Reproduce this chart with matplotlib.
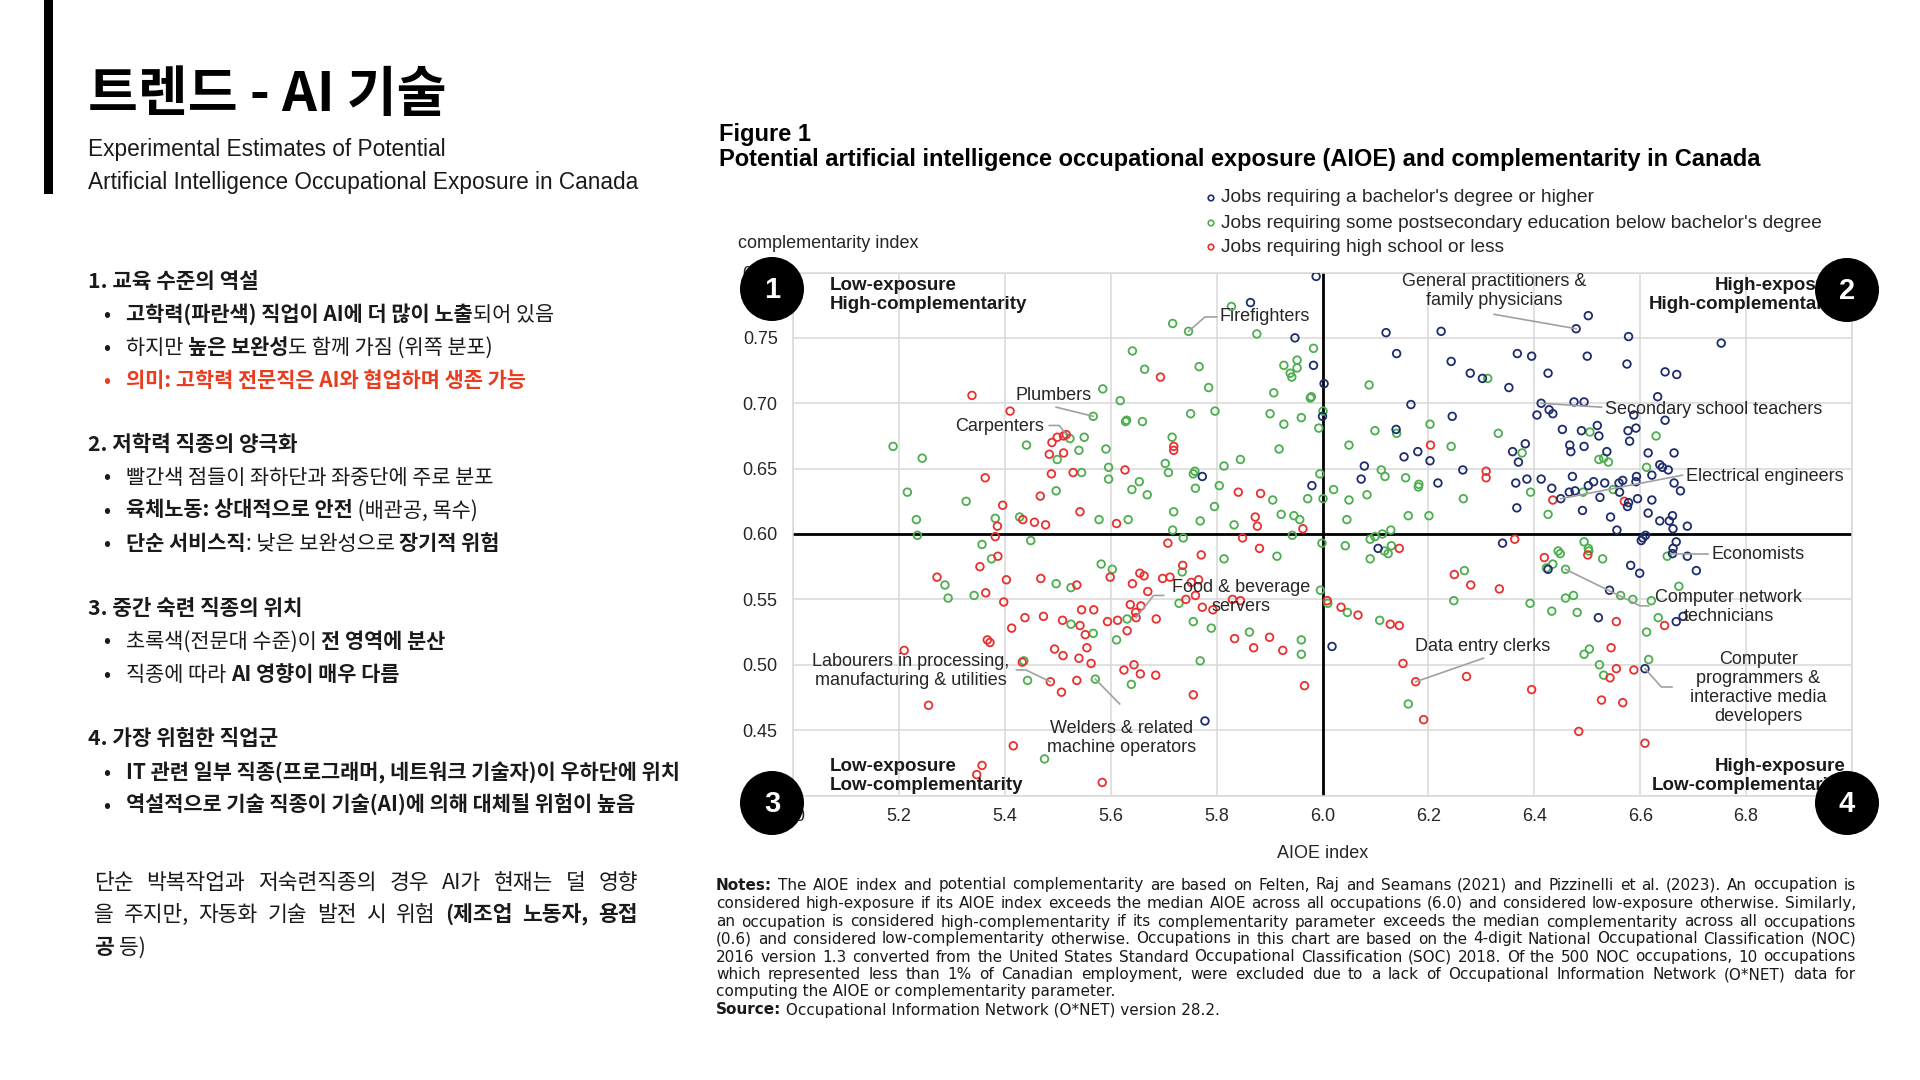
import numpy as np
import matplotlib
matplotlib.use("Agg")
import matplotlib.pyplot as plt
from matplotlib.patches import Circle, Rectangle

KR = ["Noto Sans CJK KR", "DejaVu Sans"]
EN = ["Liberation Sans", "DejaVu Sans"]
VER = ["DejaVu Sans"]
INK = "#1a1a1a"
ACCENT = "#ea3c1f"

# ---- chart data: (AIOE index, complementarity index) ----
bachelor_pts = [
    (5.988, 0.797), (5.864, 0.777), (5.948, 0.750), (5.983, 0.729), (6.003, 0.715), (6.000, 0.690),
    (5.773, 0.644), (5.980, 0.637),
    (6.120, 0.754), (6.224, 0.755), (6.140, 0.738), (6.243, 0.732), (6.279, 0.723), (6.302, 0.719),
    (6.352, 0.712), (6.368, 0.738), (6.395, 0.736), (6.426, 0.723), (6.479, 0.757), (6.502, 0.767),
    (6.500, 0.736), (6.578, 0.751), (6.575, 0.730), (6.647, 0.724), (6.669, 0.722), (6.753, 0.746),
    (6.633, 0.705), (6.167, 0.699), (6.245, 0.690), (6.413, 0.700), (6.475, 0.701), (6.494, 0.701),
    (6.405, 0.691), (6.428, 0.695), (6.435, 0.692), (6.588, 0.691), (6.647, 0.687), (6.139, 0.680),
    (6.154, 0.659), (6.180, 0.663), (6.203, 0.656), (6.079, 0.652), (6.073, 0.642), (6.218, 0.639),
    (6.265, 0.649), (6.359, 0.663), (6.370, 0.655), (6.383, 0.669), (6.453, 0.680), (6.489, 0.679),
    (6.519, 0.683), (6.522, 0.675), (6.577, 0.679), (6.592, 0.681), (6.580, 0.671), (6.467, 0.668),
    (6.469, 0.663), (6.494, 0.667), (6.537, 0.663), (6.615, 0.662), (6.664, 0.662), (6.637, 0.653),
    (6.642, 0.651), (6.653, 0.649), (6.622, 0.645), (6.593, 0.644), (6.592, 0.640), (6.560, 0.639),
    (6.567, 0.641), (6.533, 0.639), (6.512, 0.640), (6.502, 0.637), (6.477, 0.633), (6.466, 0.632),
    (6.472, 0.644), (6.413, 0.642), (6.433, 0.635), (6.386, 0.642), (6.365, 0.639), (6.450, 0.627),
    (6.524, 0.628), (6.561, 0.632), (6.595, 0.627), (6.622, 0.626), (6.664, 0.639), (6.676, 0.633),
    (6.578, 0.624), (6.576, 0.621), (6.491, 0.618), (6.544, 0.613), (6.615, 0.616), (6.637, 0.610),
    (6.655, 0.610), (6.661, 0.614), (6.662, 0.604), (6.689, 0.606), (6.556, 0.603), (6.367, 0.620),
    (6.340, 0.593), (6.602, 0.595), (6.605, 0.597), (6.610, 0.599), (6.668, 0.594), (6.105, 0.589),
    (6.662, 0.589),
    (6.018, 0.514), (5.778, 0.457),
    (6.426, 0.573), (6.542, 0.557), (6.521, 0.536), (6.582, 0.576), (6.599, 0.570), (6.689, 0.583),
    (6.706, 0.572), (6.661, 0.585), (6.668, 0.533), (6.681, 0.537), (6.609, 0.497),
]

postsec_pts = [
    (5.828, 0.774), (5.717, 0.761), (5.747, 0.755), (5.876, 0.753), (5.641, 0.740), (5.664, 0.726),
    (5.767, 0.728), (5.983, 0.742), (5.952, 0.733), (5.927, 0.729), (5.952, 0.727), (5.939, 0.723),
    (5.942, 0.720), (5.585, 0.711), (5.785, 0.712), (5.908, 0.708), (5.979, 0.705), (5.977, 0.704),
    (5.618, 0.702), (5.567, 0.690), (5.751, 0.692), (5.797, 0.694), (5.628, 0.686), (5.630, 0.687),
    (5.660, 0.686), (5.901, 0.692), (5.927, 0.684), (5.960, 0.689), (6.001, 0.694), (5.993, 0.681),
    (5.189, 0.667), (5.244, 0.658), (5.441, 0.668), (5.523, 0.673), (5.550, 0.674), (5.499, 0.657),
    (5.540, 0.664), (5.591, 0.665), (5.716, 0.674), (5.918, 0.665), (6.050, 0.668), (5.845, 0.657),
    (5.814, 0.652), (5.703, 0.654), (5.709, 0.647), (5.759, 0.648), (5.756, 0.646), (5.596, 0.651),
    (5.596, 0.642), (5.545, 0.647), (5.995, 0.646), (5.216, 0.632), (5.327, 0.625), (5.497, 0.633),
    (5.640, 0.634), (5.654, 0.640), (5.669, 0.630), (5.760, 0.635), (5.805, 0.637), (5.906, 0.626),
    (5.972, 0.627), (6.001, 0.627), (6.021, 0.634), (6.050, 0.626), (5.233, 0.611), (5.382, 0.612),
    (5.428, 0.613), (5.578, 0.611), (5.633, 0.611), (5.719, 0.617), (5.769, 0.610), (5.796, 0.621),
    (5.833, 0.607), (5.922, 0.615), (5.946, 0.614), (5.957, 0.611), (6.046, 0.611), (5.235, 0.599),
    (5.717, 0.603), (5.943, 0.599), (5.357, 0.592), (5.449, 0.595), (5.737, 0.597), (5.999, 0.593),
    (6.043, 0.591),
    (6.088, 0.714), (6.312, 0.719), (6.203, 0.684), (6.099, 0.679), (6.140, 0.677), (6.243, 0.667),
    (6.332, 0.677), (6.377, 0.662), (6.505, 0.678), (6.630, 0.675), (6.522, 0.657), (6.531, 0.658),
    (6.540, 0.655), (6.111, 0.649), (6.118, 0.644), (6.157, 0.643), (6.182, 0.638), (6.181, 0.636),
    (6.084, 0.630), (6.266, 0.627), (6.393, 0.632), (6.492, 0.632), (6.549, 0.634), (6.612, 0.651),
    (6.162, 0.614), (6.201, 0.614), (6.426, 0.615), (6.129, 0.603), (6.113, 0.600), (6.099, 0.598),
    (6.090, 0.596), (6.130, 0.591), (6.494, 0.594), (6.502, 0.589), (6.445, 0.587),
    (5.375, 0.581), (5.287, 0.561), (5.293, 0.551), (5.342, 0.553), (5.497, 0.562), (5.525, 0.559),
    (5.582, 0.577), (5.603, 0.573), (5.735, 0.571), (5.814, 0.581), (5.914, 0.583), (5.996, 0.557),
    (6.010, 0.547), (6.047, 0.540), (5.631, 0.535), (5.525, 0.531), (5.567, 0.524), (5.611, 0.519),
    (5.729, 0.547), (5.756, 0.533), (5.790, 0.528), (5.862, 0.525), (5.960, 0.519), (5.960, 0.508),
    (5.769, 0.503), (5.436, 0.503), (5.443, 0.488), (5.571, 0.489), (5.639, 0.485), (5.475, 0.428),
    (6.090, 0.581), (6.124, 0.585), (6.117, 0.587), (6.529, 0.581), (6.503, 0.587), (6.449, 0.585),
    (6.435, 0.577), (6.423, 0.574), (6.459, 0.573), (6.563, 0.553), (6.586, 0.550), (6.621, 0.549),
    (6.651, 0.583), (6.673, 0.560), (6.459, 0.551), (6.474, 0.553), (6.392, 0.547), (6.433, 0.541),
    (6.481, 0.540), (6.634, 0.536), (6.612, 0.525), (6.616, 0.504), (6.494, 0.508), (6.504, 0.512),
    (6.523, 0.500), (6.531, 0.492), (6.248, 0.549), (6.268, 0.572), (6.108, 0.534), (6.162, 0.470),
]

highschool_pts = [
    (5.338, 0.706), (5.410, 0.694), (5.694, 0.720), (5.516, 0.676), (5.511, 0.675), (5.499, 0.674),
    (5.489, 0.670), (5.484, 0.661), (5.511, 0.662), (5.488, 0.646), (5.529, 0.647), (5.627, 0.649),
    (5.719, 0.667), (5.719, 0.664), (5.363, 0.643), (5.467, 0.629), (5.396, 0.622), (5.542, 0.617),
    (5.841, 0.632), (5.883, 0.631), (5.386, 0.606), (5.434, 0.611), (5.456, 0.609), (5.477, 0.607),
    (5.611, 0.608), (5.873, 0.613), (5.877, 0.606), (5.963, 0.604), (5.382, 0.598), (5.708, 0.593),
    (5.849, 0.597), (5.881, 0.589),
    (6.204, 0.668), (6.309, 0.648), (6.309, 0.643), (6.435, 0.626), (6.570, 0.625), (6.363, 0.596),
    (6.145, 0.589),
    (5.771, 0.584), (5.736, 0.576), (5.599, 0.567), (5.655, 0.570), (5.663, 0.568), (5.641, 0.562),
    (5.698, 0.566), (5.712, 0.567), (5.752, 0.563), (5.766, 0.565), (5.670, 0.556), (5.742, 0.550),
    (5.760, 0.553), (5.773, 0.544), (5.793, 0.542), (5.830, 0.550), (5.845, 0.549), (5.686, 0.535),
    (5.647, 0.540), (5.657, 0.545), (5.637, 0.546), (5.648, 0.536), (5.631, 0.526), (5.594, 0.533),
    (5.613, 0.534), (5.568, 0.542), (5.545, 0.542), (5.542, 0.530), (5.552, 0.523), (5.555, 0.513),
    (5.509, 0.534), (5.473, 0.537), (5.438, 0.536), (5.413, 0.528), (5.398, 0.548), (5.403, 0.565),
    (5.468, 0.566), (5.536, 0.561), (5.353, 0.575), (5.387, 0.583), (5.272, 0.567), (5.364, 0.555),
    (5.367, 0.519), (5.372, 0.517), (5.494, 0.512), (5.510, 0.507), (5.540, 0.505), (5.563, 0.501),
    (5.433, 0.502), (5.486, 0.487), (5.536, 0.488), (5.507, 0.479), (5.625, 0.496), (5.644, 0.500),
    (5.656, 0.493), (5.685, 0.492), (5.756, 0.477), (5.834, 0.520), (5.870, 0.513), (5.900, 0.521),
    (5.925, 0.511), (5.966, 0.484), (5.210, 0.511), (5.256, 0.469), (5.416, 0.438), (5.357, 0.423),
    (5.347, 0.416), (5.584, 0.410), (6.009, 0.549), (6.035, 0.544),
    (6.501, 0.584), (6.419, 0.582), (6.249, 0.569), (6.280, 0.561), (6.334, 0.558), (6.067, 0.538),
    (6.128, 0.531), (6.145, 0.530), (6.555, 0.533), (6.646, 0.530), (6.545, 0.513), (6.152, 0.501),
    (6.176, 0.487), (6.272, 0.491), (6.395, 0.481), (6.555, 0.497), (6.588, 0.496), (6.543, 0.490),
    (6.527, 0.473), (6.567, 0.471), (6.484, 0.449), (6.609, 0.440), (6.191, 0.458),
]

series_names = [
    "Jobs requiring a bachelor's degree or higher",
    "Jobs requiring some postsecondary education below bachelor's degree",
    "Jobs requiring high school or less",
]
series_colors = ["#1f2d6e", "#4cae4f", "#e8312f"]

x_ticks = [5.0, 5.2, 5.4, 5.6, 5.8, 6.0, 6.2, 6.4, 6.6, 6.8, 7.0]
y_ticks = [0.40, 0.45, 0.50, 0.55, 0.60, 0.65, 0.70, 0.75, 0.80]
median_aioe = 6.0
median_comp = 0.6

# labelled occupations: label, labelled point, label position, alignment, leader elbows
callouts = [
    ("Firefighters", (5.747, 0.755), (5.806, 0.766), "left", [(5.800, 0.766), (5.778, 0.766)]),
    ("Plumbers", (5.567, 0.690), (5.492, 0.706), "center", [(5.497, 0.697)]),
    ("Carpenters", (5.516, 0.676), (5.390, 0.682), "center", [(5.484, 0.683), (5.503, 0.683)]),
    ("General practitioners &\nfamily physicians", (6.479, 0.757), (6.324, 0.786), "center", [(6.324, 0.768)]),
    ("Secondary school teachers", (6.413, 0.700), (6.534, 0.695), "left", [(6.527, 0.697)]),
    ("Electrical engineers", (6.450, 0.627), (6.687, 0.644), "left", [(6.680, 0.645)]),
    ("Economists", (6.661, 0.585), (6.734, 0.584), "left", [(6.728, 0.585)]),
    ("Computer network\ntechnicians", (6.459, 0.573), (6.767, 0.544), "center", [(6.616, 0.545), (6.600, 0.545)]),
    ("Data entry clerks", (6.176, 0.487), (6.303, 0.514), "center", [(6.304, 0.505)]),
    ("Computer\nprogrammers &\ninteractive media\ndevelopers", (6.609, 0.497), (6.823, 0.482), "center",
     [(6.660, 0.483), (6.640, 0.483)]),
    ("Food & beverage\nservers", (5.648, 0.536), (5.846, 0.552), "center", [(5.700, 0.553), (5.681, 0.553)]),
    ("Labourers in processing,\nmanufacturing & utilities", (5.486, 0.487), (5.222, 0.495), "center",
     [(5.422, 0.496), (5.440, 0.496)]),
    ("Welders & related\nmachine operators", (5.571, 0.489), (5.620, 0.444), "center", [(5.617, 0.470)]),
]

quadrants = [
    ("Low-exposure\nHigh-complementarity", (5.070, 0.7825), "left"),
    ("High-exposure\nHigh-complementarity", (6.988, 0.7825), "right"),
    ("Low-exposure\nLow-complementarity", (5.070, 0.415), "left"),
    ("High-exposure\nLow-complementarity", (6.988, 0.415), "right"),
]

notes_lines = [
    [("Notes:", True), ("The AIOE index and potential complementarity are based on Felten, Raj and Seamans (2021) and Pizzinelli et al. (2023). An occupation is", False)],
    [("considered high-exposure if its AIOE index exceeds the median AIOE across all occupations (6.0) and considered low-exposure otherwise. Similarly,", False)],
    [("an occupation is considered high-complementarity if its complementarity parameter exceeds the median complementarity across all occupations", False)],
    [("(0.6) and considered low-complementarity otherwise. Occupations in this chart are based on the 4-digit National Occupational Classification (NOC)", False)],
    [("2016 version 1.3 converted from the United States Standard Occupational Classification (SOC) 2018. Of the 500 NOC occupations, 10 occupations", False)],
    [("which represented less than 1% of Canadian employment, were excluded due to a lack of Occupational Information Network (O*NET) data for", False)],
    [("computing the AIOE or complementarity parameter.", False)],
    [("Source:", True), (" Occupational Information Network (O*NET) version 28.2.", False)],
]

# left panel text: (kind, runs) with runs as (text, bold, colour)
sections = [
    ("head", [("1. 교육 수준의 역설", True, INK)]),
    ("item", [("고학력(파란색) 직업이 AI에 더 많이 노출", True, INK), ("되어 있음", False, INK)]),
    ("item", [("하지만 ", False, INK), ("높은 보완성", True, INK), ("도 함께 가짐 (위쪽 분포)", False, INK)]),
    ("item", [("의미: 고학력 전문직은 AI와 협업하며 생존 가능", True, ACCENT)]),
    ("head", [("2. 저학력 직종의 양극화", True, INK)]),
    ("item", [("빨간색 점들이 좌하단과 좌중단에 주로 분포", False, INK)]),
    ("item", [("육체노동: 상대적으로 안전", True, INK), (" (배관공, 목수)", False, INK)]),
    ("item", [("단순 서비스직", True, INK), (": 낮은 보완성으로 ", False, INK), ("장기적 위험", True, INK)]),
    ("head", [("3. 중간 숙련 직종의 위치", True, INK)]),
    ("item", [("초록색(전문대 수준)이 ", False, INK), ("전 영역에 분산", True, INK)]),
    ("item", [("직종에 따라 ", False, INK), ("AI 영향이 매우 다름", True, INK)]),
    ("head", [("4. 가장 위험한 직업군", True, INK)]),
    ("item", [("IT 관련 일부 직종(프로그래머, 네트워크 기술자)이 우하단에 위치", True, INK)]),
    ("item", [("역설적으로 기술 직종이 기술(AI)에 의해 대체될 위험이 높음", True, INK)]),
]
section_y = [280, 313.5, 346.5, 379.6, 443, 476, 509, 542.5, 607, 640, 673.5, 737, 771.5, 804.5]

summary_lines = [
    [("단순 박복작업과 저숙련직종의 경우 AI가 현재는 덜 영향", False, INK)],
    [("을 주지만, 자동화 기술 발전 시 위험 ", False, INK), ("(제조업 노동자, 용접", True, INK)],
    [("공", True, INK), (" 등)", False, INK)],
]
summary_y = [881.6, 913.5, 946.5]

# ---- figure ----
W, H = 1920, 1080
fig = plt.figure(figsize=(W / 100, H / 100), dpi=100)
fig.patch.set_facecolor("white")

left, right, top, bottom = 793, 1852, 272.5, 795.5
ax = fig.add_axes([left / W, 1 - bottom / H, (right - left) / W, (bottom - top) / H])
ax.set_xlim(5.0, 7.0)
ax.set_ylim(0.40, 0.80)
ax.set_xticks(x_ticks)
ax.set_yticks(y_ticks)
ax.set_xticklabels([f"{v:.1f}" for v in x_ticks], family=EN, fontsize=13, color="#262626")
ax.set_yticklabels([f"{v:.2f}" for v in y_ticks], family=EN, fontsize=13, color="#262626")
ax.tick_params(length=0)
ax.tick_params(axis="y", pad=11)
ax.tick_params(axis="x", pad=9)
ax.grid(True, color="#d9d9d9", lw=1.1, zorder=0)
ax.set_axisbelow(True)
for sp in ax.spines.values():
    sp.set_color("#d9d9d9")
    sp.set_linewidth(1.1)
ax.axhline(median_comp, color="black", lw=2.0, zorder=2)
ax.axvline(median_aioe, color="black", lw=2.0, zorder=2)

for pts, col in zip([postsec_pts, highschool_pts, bachelor_pts], [series_colors[1], series_colors[2], series_colors[0]]):
    xs = [p[0] for p in pts]
    ys = [p[1] for p in pts]
    ax.scatter(xs, ys, s=30, facecolors="none", edgecolors=col, linewidths=1.3, zorder=3)

for label, pt, pos, ha, elbows in callouts:
    path = elbows + [pt]
    ax.plot([p[0] for p in path], [p[1] for p in path], color="#a0a0a0", lw=1.2, zorder=4)
    ax.text(pos[0], pos[1], label, ha=ha, va="center", family=EN, fontsize=13,
            color="#262626", linespacing=1.15, multialignment="center" if ha == "center" else ha, zorder=5)

for label, pos, ha in quadrants:
    ax.text(pos[0], pos[1], label, ha=ha, va="center", family=EN, fontsize=13.5, fontweight="bold",
            color="#1a1a1a", linespacing=1.15, multialignment=ha, zorder=5)

# ---- overlay in pixel coordinates ----
ov = fig.add_axes([0, 0, 1, 1], zorder=10)
ov.set_xlim(0, W)
ov.set_ylim(H, 0)
ov.axis("off")
renderer = fig.canvas.get_renderer()


def width_of(s, size, family, bold):
    wt = "bold" if bold else "normal"
    t = ov.text(0, 0, "|" + s + "|", fontsize=size, family=family, fontweight=wt)
    w = t.get_window_extent(renderer).width
    t.remove()
    t = ov.text(0, 0, "||", fontsize=size, family=family, fontweight=wt)
    w -= t.get_window_extent(renderer).width
    t.remove()
    return w


def draw_runs(x, y, runs, size, family, justify=None):
    if justify is None:
        cx = x
        for text, bold, col in runs:
            ov.text(cx, y, text, fontsize=size, family=family, color=col,
                    fontweight="bold" if bold else "normal", va="baseline", ha="left")
            cx += width_of(text, size, family, bold)
        return
    words = []
    for text, bold, col in runs:
        for w in text.split():
            words.append((w, bold, col))
    widths = [width_of(w, size, family, b) for w, b, c in words]
    gap = (justify - sum(widths)) / max(len(words) - 1, 1)
    gap = max(gap, 0.6 * width_of(" ", size, family, False))
    cx = x
    for (w, b, c), wd in zip(words, widths):
        ov.text(cx, y, w, fontsize=size, family=family, color=c,
                fontweight="bold" if b else "normal", va="baseline", ha="left")
        cx += wd + gap


# left accent bar and headline
ov.add_patch(Rectangle((44, 0), 9, 194, color="black", lw=0))
ov.text(88, 111, "트렌드 - AI 기술", family=KR, fontsize=39, fontweight="bold", color="black", va="baseline")
ov.text(88, 156, "Experimental Estimates of Potential", family=EN, fontsize=16.3, color=INK, va="baseline")
ov.text(88, 189, "Artificial Intelligence Occupational Exposure in Canada", family=EN, fontsize=16.3,
        color=INK, va="baseline")

for (kind, runs), yc in zip(sections, section_y):
    size = 15.3 if kind == "head" else 15
    base = yc + 0.36 * size * 100 / 72
    if kind == "head":
        draw_runs(88, base, runs, size, KR)
    else:
        ov.text(103, base, "•", family=KR, fontsize=size, color=runs[0][2], va="baseline")
        draw_runs(126, base, runs, size, KR)

for i, (runs, yc) in enumerate(zip(summary_lines, summary_y)):
    size = 15.5
    base = yc + 0.36 * size * 100 / 72
    draw_runs(94, base, runs, size, KR, justify=544 if i < 2 else None)

# chart header
ov.text(719, 141.5, "Figure 1", family=EN, fontsize=17, fontweight="bold", color="black", va="baseline")
ov.text(719, 166, "Potential artificial intelligence occupational exposure (AIOE) and complementarity in Canada",
        family=EN, fontsize=17, fontweight="bold", color="black", va="baseline")

for name, col, yc in zip(series_names, series_colors, [198, 223, 247]):
    ov.scatter([1211], [yc], s=16, facecolors="none", edgecolors=col, linewidths=1.2)
    ov.text(1221, yc, name, family=EN, fontsize=13.8, color="#262626", va="center", ha="left")

ov.text(738, 243, "complementarity index", family=EN, fontsize=13, color="#262626", va="center")
ov.text(1323, 854, "AIOE index", family=EN, fontsize=13, color="#262626", va="center", ha="center")

# numbered quadrant badges
for num, (cx, cy) in zip(["1", "2", "3", "4"], [(772, 289), (1847, 290), (772, 803), (1847, 803)]):
    ov.add_patch(Circle((cx, cy), 32, color="black", lw=0))
    ov.text(cx, cy + 1, num, family=EN, fontsize=21, fontweight="bold", color="white", ha="center", va="center")

# notes
notes_y = [884, 902.5, 921, 938, 956, 973.5, 990.6, 1009]
for i, (runs, yc) in enumerate(zip(notes_lines, notes_y)):
    size = 11
    base = yc + 0.36 * size * 100 / 72
    r = [(t, b, "#1a1a1a") for t, b in runs]
    draw_runs(716, base, r, size, VER, justify=1140 if i < 6 else None)

fig.savefig("out.png", dpi=100)
